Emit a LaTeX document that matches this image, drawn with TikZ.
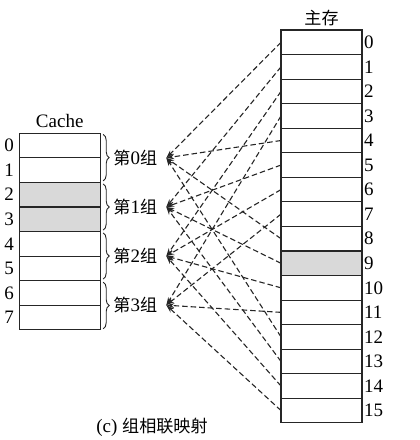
\documentclass[tikz,border=0pt]{standalone}
\usepackage{fontspec}
\setmainfont{Liberation Serif}
\newfontfamily\cjk{Noto Sans CJK SC}[Scale=0.9]
\usetikzlibrary{arrows.meta,decorations.pathreplacing}
\tikzstyle{mem} = [rectangle, minimum width=81pt, minimum height=24.55pt,
inner sep=0pt, outer sep=0pt, draw=black!85, line width=1.1pt]
\tikzstyle{shade} = [mem, fill=gray!30]
\tikzstyle{num} = [inner sep=1pt, label distance=1pt]
\tikzstyle{grp} = [inner xsep=9pt, inner ysep=2pt]
\tikzstyle{grpbrace} = [decorate, decoration={brace, amplitude=6pt}, line width=0.9pt, black!85]
\tikzstyle{arrow} = [dash pattern=on 5.5pt off 3pt, line width=1.1pt, black!85,
-{Stealth[length=8pt, width=5pt]}]

\begin{document}
\begin{tikzpicture}[x=1pt, y=-1pt, node distance=24.55pt,
every node/.style={font=\fontsize{19}{21}\selectfont}]
\useasboundingbox (0,0) rectangle (420,440);
% main memory
\node (m0)[mem, label={[num]right:0}] at (321.5,42.3) {};
\node (m1)[mem, below of=m0, label={[num]right:1}] {};
\node (m2)[mem, below of=m1, label={[num]right:2}] {};
\node (m3)[mem, below of=m2, label={[num]right:3}] {};
\node (m4)[mem, below of=m3, label={[num]right:4}] {};
\node (m5)[mem, below of=m4, label={[num]right:5}] {};
\node (m6)[mem, below of=m5, label={[num]right:6}] {};
\node (m7)[mem, below of=m6, label={[num]right:7}] {};
\node (m8)[mem, below of=m7, label={[num]right:8}] {};
\node (m9)[shade, below of=m8, label={[num]right:9}] {};
\node (m10)[mem, below of=m9, label={[num]right:10}] {};
\node (m11)[mem, below of=m10, label={[num]right:11}] {};
\node (m12)[mem, below of=m11, label={[num]right:12}] {};
\node (m13)[mem, below of=m12, label={[num]right:13}] {};
\node (m14)[mem, below of=m13, label={[num]right:14}] {};
\node (m15)[mem, below of=m14, label={[num]right:15}] {};
\node (mt)[above of=m0]{\cjk 主存};

% cache
\node (c0)[mem, label={[num, label distance=4pt]left:0}] at (59.7,145.6) {};
\node (c1)[mem, below of=c0, label={[num, label distance=4pt]left:1}] {};
\node (c2)[shade, below of=c1, label={[num, label distance=4pt]left:2}] {};
\node (c3)[shade, below of=c2, label={[num, label distance=4pt]left:3}] {};
\node (c4)[mem, below of=c3, label={[num, label distance=4pt]left:4}] {};
\node (c5)[mem, below of=c4, label={[num, label distance=4pt]left:5}] {};
\node (c6)[mem, below of=c5, label={[num, label distance=4pt]left:6}] {};
\node (c7)[mem, below of=c6, label={[num, label distance=4pt]left:7}] {};
\node (ct)[above of=c0]{Cache};

% groups
\node (g0)[grp, anchor=west, xshift=4pt] at (c0.south east) {{\cjk 第}0{\cjk 组}};
\node (g1)[grp, anchor=west, xshift=4pt] at (c2.south east) {{\cjk 第}1{\cjk 组}};
\node (g2)[grp, anchor=west, xshift=4pt] at (c4.south east) {{\cjk 第}2{\cjk 组}};
\node (g3)[grp, anchor=west, xshift=4pt] at (c6.south east) {{\cjk 第}3{\cjk 组}};
\draw [grpbrace]([xshift=3pt, yshift=-1pt]c0.north east) -- ([xshift=3pt, yshift=1.5pt]c1.south east);
\draw [grpbrace]([xshift=3pt, yshift=-1.5pt]c2.north east) -- ([xshift=3pt, yshift=1.5pt]c3.south east);
\draw [grpbrace]([xshift=3pt, yshift=-1.5pt]c4.north east) -- ([xshift=3pt, yshift=1.5pt]c5.south east);
\draw [grpbrace]([xshift=3pt, yshift=-1.5pt]c6.north east) -- ([xshift=3pt, yshift=1pt]c7.south east);

\node (cap) at (152,427) {(c) {\cjk 组相联映射}};

\draw [arrow](m0.west) -- (g0.east);
\draw [arrow](m1.west) -- (g1.east);
\draw [arrow](m2.west) -- (g2.east);
\draw [arrow](m3.west) -- (g3.east);
\draw [arrow](m4.west) -- (g0.east);
\draw [arrow](m5.west) -- (g1.east);
\draw [arrow](m6.west) -- (g2.east);
\draw [arrow](m7.west) -- (g3.east);
\draw [arrow](m8.west) -- (g0.east);
\draw [arrow](m9.west) -- (g1.east);
\draw [arrow](m10.west) -- (g2.east);
\draw [arrow](m11.west) -- (g3.east);
\draw [arrow](m12.west) -- (g0.east);
\draw [arrow](m13.west) -- (g1.east);
\draw [arrow](m14.west) -- (g2.east);
\draw [arrow](m15.west) -- (g3.east);
\end{tikzpicture}
\end{document}
